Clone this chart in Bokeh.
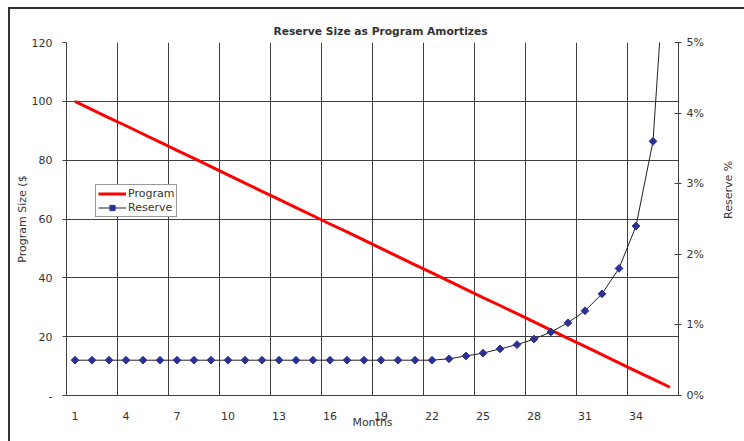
import math
from bokeh.plotting import figure
from bokeh.models import (Range1d, LinearAxis, FixedTicker, PrintfTickFormatter,
                          Legend, LegendItem, InlineStyleSheet)
from bokeh.embed import file_html
from bokeh.resources import INLINE

# ---- data ----
months = list(range(1, 37))
program = [100.0, 97.2, 94.4, 91.7, 88.9, 86.1, 83.3, 80.6, 77.8, 75.0, 72.2, 69.4,
           66.7, 63.9, 61.1, 58.3, 55.6, 52.8, 50.0, 47.2, 44.4, 41.7, 38.9, 36.1,
           33.3, 30.6, 27.8, 25.0, 22.2, 19.4, 16.7, 13.9, 11.1, 8.3, 5.6, 2.8]
reserve_pct = [0.5] * 22 + [0.52, 0.56, 0.60, 0.66, 0.72, 0.80, 0.90, 1.03,
                            1.20, 1.44, 1.80, 2.40, 3.60, 7.20]
x_tick_labels = [1, 4, 7, 10, 13, 16, 19, 22, 25, 28, 31, 34]
left_ticks = [0, 20, 40, 60, 80, 100, 120]
right_ticks = [0, 1, 2, 3, 4, 5]

FONT = "DejaVu Sans"
TXT = "#333333"
GRID = "#404040"

p = figure(width=744, height=441, output_backend="svg", toolbar_location=None,
           x_range=Range1d(0.5, 36.5), y_range=Range1d(0, 120),
           min_border_left=66, min_border_right=65, min_border_top=42,
           min_border_bottom=46, outline_line_color=None,
           background_fill_color="white", border_fill_color="white")

p.title.text = "Reserve Size as Program Amortizes"
p.title.text_font = FONT
p.title.text_font_size = "10.7px"
p.title.text_font_style = "bold"
p.title.text_color = TXT
p.title.align = "left"
p.title.offset = 207
p.title.standoff = 9

p.extra_y_ranges = {"pct": Range1d(0, 5)}

# x axis
xa = p.xaxis[0]
xa.ticker = FixedTicker(ticks=x_tick_labels)
xa.major_tick_line_color = None
xa.minor_tick_line_color = None
xa.major_label_standoff = 10
xa.axis_label = "Months"
xa.axis_label_standoff = -7
xa.axis_line_color = GRID

# left axis
ya = p.yaxis[0]
ya.ticker = FixedTicker(ticks=left_ticks)
ya.major_label_overrides = {0: "-"}
ya.major_tick_in = 0
ya.major_tick_out = 4
ya.minor_tick_line_color = None
ya.major_label_standoff = 10
ya.axis_label = "Program Size ($"
ya.axis_label_standoff = 0
ya.axis_line_color = GRID
ya.major_tick_line_color = GRID

# right axis
ra = LinearAxis(y_range_name="pct", ticker=FixedTicker(ticks=right_ticks),
                formatter=PrintfTickFormatter(format="%d%%"))
ra.major_tick_in = 4
ra.major_tick_out = 3
ra.minor_tick_line_color = None
ra.major_label_standoff = 5
ra.axis_label = "Reserve %"
ra.axis_label_standoff = 22
ra.axis_label_orientation = math.pi / 2
ra.axis_line_color = GRID
ra.major_tick_line_color = GRID
p.add_layout(ra, "right")

for ax in (xa, ya, ra):
    ax.major_label_text_font = FONT
    ax.major_label_text_font_size = "11px"
    ax.major_label_text_color = TXT
    ax.axis_label_text_font = FONT
    ax.axis_label_text_font_size = "11px"
    ax.axis_label_text_font_style = "normal"
    ax.axis_label_text_color = TXT

# grids
p.xgrid.ticker = FixedTicker(ticks=[0.5 + 3 * k for k in range(13)])
p.xgrid.grid_line_color = GRID
p.ygrid.grid_line_color = GRID

# series
r_prog = p.line(months, program, line_color="#FF0000", line_width=3)
r_res_line = p.line(months, reserve_pct, y_range_name="pct", line_color="#222222", line_width=1)
r_res_pts = p.scatter(months, reserve_pct, y_range_name="pct", marker="square", size=5.5,
                      angle=math.pi / 4, fill_color="#2E3192", line_color="#2E3192")

legend = Legend(items=[LegendItem(label="Program", renderers=[r_prog]),
                       LegendItem(label="Reserve", renderers=[r_res_line, r_res_pts])],
                location=(29, 178), orientation="vertical",
                label_text_font=FONT, label_text_font_size="11px", label_text_color=TXT,
                glyph_width=28, glyph_height=13, label_height=13, label_standoff=2,
                padding=2, spacing=1, margin=0,
                border_line_color="#333333", border_line_width=1,
                background_fill_color="white", background_fill_alpha=1)
p.add_layout(legend, "center")

# outer chart-area border (open at right/bottom as in reference)
p.stylesheets = [InlineStyleSheet(css=(
    ":host::after { content: ''; position: absolute; left: 8px; top: 7px; "
    "right: 0px; bottom: 0px; border-left: 2px solid #333333; "
    "border-top: 2px solid #333333; pointer-events: none; }"))]

open("out.html", "w").write(file_html(p, INLINE))
